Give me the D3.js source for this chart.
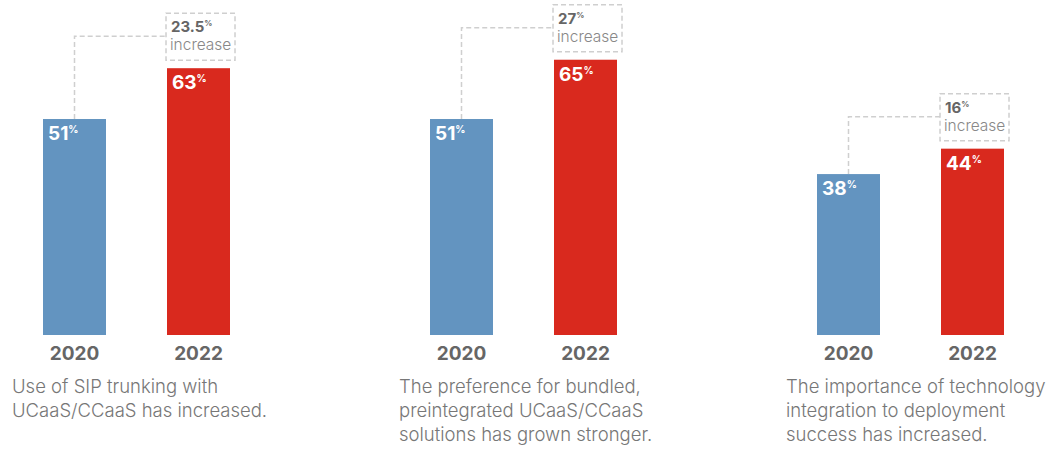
<!DOCTYPE html>
<html>
<head>
<meta charset="utf-8">
<script src="https://cdn.jsdelivr.net/npm/d3@7"></script>
<style>
    body { margin: 0; background: #fff; }
    svg { display: block; font-family: Inter, "Noto Sans", sans-serif; }
</style>
</head>
<body>
<svg width="1055" height="449"></svg>
<script>
// Chart data.
const years = ["2020", "2022"];
const values2020 = [51, 51, 38];
const values2022 = [63, 65, 44];
const increases = ["23.5", "27", "16"];
const captions = [
    ["Use of SIP trunking with", "UCaaS/CCaaS has increased."],
    ["The preference for bundled,", "preintegrated UCaaS/CCaaS", "solutions has grown stronger."],
    ["The importance of technology", "integration to deployment", "success has increased."]
];

const BLUE = "#6394c0";
const RED = "#d9291e";

const svg = d3.select("svg");

// Where each panel starts, and where the two bars sit inside a panel.
const panelX = d3.scaleLinear().domain([0, 2]).range([43, 817]);
const barX = d3.scaleBand().domain(years).range([0, 187]).paddingInner(0.492).paddingOuter(0);
const y = d3.scaleLinear().domain([0, 100]).range([335, 335 - 423.5]);

function addPercent(text, size, supSize, dy) {
    text.append("tspan").attr("font-size", size).text(text.datum().label);
    text.append("tspan").attr("font-size", supSize).attr("dy", dy).text("%");
}

captions.forEach(function(lines, i) {
    const g = svg.append("g").attr("transform", "translate(" + panelX(i) + ",0)");
    const bars = [
        { year: years[0], value: values2020[i], color: BLUE },
        { year: years[1], value: values2022[i], color: RED }
    ];

    g.selectAll("rect.bar")
        .data(bars)
        .join("rect")
        .attr("class", "bar")
        .attr("x", d => barX(d.year))
        .attr("y", d => y(d.value))
        .attr("width", barX.bandwidth())
        .attr("height", d => y(0) - y(d.value))
        .attr("fill", d => d.color);

    // Value labels inside the bars.
    g.selectAll("text.value")
        .data(bars)
        .join("text")
        .attr("class", "value")
        .attr("x", d => barX(d.year) + 5)
        .attr("y", d => y(d.value) + 21)
        .attr("fill", "#fff")
        .attr("font-weight", 700)
        .each(function(d) {
            d.label = String(d.value);
            addPercent(d3.select(this), 19, 10, -7);
        });

    // Year labels under the bars.
    g.selectAll("text.year")
        .data(bars)
        .join("text")
        .attr("class", "year")
        .attr("x", d => barX(d.year) + barX.bandwidth() / 2)
        .attr("y", 360)
        .attr("text-anchor", "middle")
        .attr("font-size", 19)
        .attr("font-weight", 700)
        .attr("fill", "#666")
        .text(d => d.year);

    // Dashed connector from the 2020 bar to the increase box.
    const blueMid = barX(years[0]) + barX.bandwidth() / 2;
    const redLeft = barX(years[1]);
    const redTop = y(values2022[i]);
    const boxTop = redTop - 55;
    const lineY = redTop - 32;

    g.append("path")
        .attr("d", "M" + blueMid + "," + y(values2020[i]) + "V" + lineY + "H" + (redLeft - 1))
        .attr("fill", "none")
        .attr("stroke", "#cfcfcf")
        .attr("stroke-width", 1.5)
        .attr("stroke-dasharray", "5,3");

    g.append("rect")
        .attr("x", redLeft - 1)
        .attr("y", boxTop)
        .attr("width", 69)
        .attr("height", 47)
        .attr("fill", "none")
        .attr("stroke", "#cfcfcf")
        .attr("stroke-width", 1.5)
        .attr("stroke-dasharray", "5,3");

    const inc = g.append("text")
        .datum({ label: increases[i] })
        .attr("x", redLeft + 4)
        .attr("y", boxTop + 19)
        .attr("fill", "#666")
        .attr("font-weight", 700);
    addPercent(inc, 15, 8, -6);

    g.append("text")
        .attr("x", redLeft + 3)
        .attr("y", boxTop + 37)
        .attr("fill", "#888")
        .attr("font-size", 15.5)
        .attr("font-weight", 300)
        .text("increase");

    // Caption below the years.
    g.append("text")
        .attr("fill", "#777")
        .attr("font-size", 18.5)
        .attr("font-weight", 300)
        .selectAll("tspan")
        .data(lines)
        .join("tspan")
        .attr("x", -31)
        .attr("y", (d, k) => 393 + k * 24)
        .text(d => d);
});
</script>
</body>
</html>
